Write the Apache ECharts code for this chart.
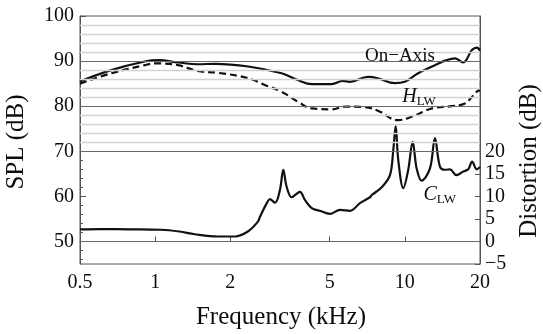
<!DOCTYPE html>
<html><head><meta charset="utf-8">
<script src="https://cdn.jsdelivr.net/npm/echarts@6/dist/echarts.min.js"></script>
<style>html,body{margin:0;padding:0;background:#fff}#c{width:543px;height:334px}</style>
</head><body><div id="c"></div>
<script>
// ---- data ----
const onAxisFreq = [0.5, 0.667, 0.908, 1.03, 1.235, 1.48, 1.74, 2.36, 3.21, 3.73, 4.24, 5.09, 5.65, 6.03, 7.12, 7.8, 9.13, 10.0, 11.3, 13.2, 14.5, 15.9, 17.1, 18.6, 19.45, 20];
const onAxisSPL  = [85.5, 88.0, 89.9, 90.2, 89.7, 89.3, 89.4, 88.8, 87.3, 85.8, 84.9, 84.9, 85.6, 85.4, 86.5, 86.2, 85.1, 85.4, 87.3, 89.1, 90.1, 90.6, 89.7, 92.5, 93.0, 92.3];
const hlwFreq = [0.5, 0.667, 0.908, 1.0, 1.235, 1.48, 1.785, 2.36, 2.75, 3.21, 3.73, 4.24, 5.09, 5.76, 6.92, 7.8, 9.39, 10.7, 12.85, 15.4, 17.4, 18.6, 19.6, 20];
const hlwSPL  = [85.0, 87.3, 89.1, 89.5, 89.1, 87.8, 87.4, 86.2, 84.7, 83.2, 81.0, 79.5, 79.3, 79.9, 79.8, 79.0, 76.9, 77.7, 79.5, 80.0, 80.6, 82.1, 83.4, 83.5];
const clwFreq = [0.5, 0.6, 0.8, 1.055, 1.25, 1.44, 1.785, 2.09, 2.35, 2.58, 2.63, 2.80, 2.88, 3.02, 3.16, 3.26, 3.36, 3.52, 3.80, 3.98, 4.24, 4.57, 5.01, 5.50, 6.03, 6.61, 7.25, 7.37, 8.08, 8.72, 8.99, 9.19, 9.41, 9.86, 10.32, 10.75, 11.15, 11.68, 12.61, 13.2, 13.82, 14.5, 15.16, 16.1, 17.14, 17.95, 18.6, 19.4, 20];
const clwDist = [2.7, 2.75, 2.7, 2.6, 2.2, 1.6, 1.1, 1.1, 2.2, 4.4, 5.5, 8.5, 9.4, 8.6, 11.4, 15.9, 12.2, 9.8, 11.0, 9.2, 7.4, 6.8, 6.1, 7.0, 6.8, 8.5, 9.8, 10.3, 12.0, 14.7, 20.3, 25.6, 18.1, 11.8, 15.9, 22.1, 16.2, 13.5, 16.2, 22.9, 16.6, 15.9, 16.0, 14.7, 15.5, 16.0, 17.7, 16.0, 16.5];
const xTicks = [0.5, 1, 2, 5, 10, 20];
const splLabels = [50, 60, 70, 80, 90, 100];
const splMinorTicks = [46, 48, 52, 54, 56, 58, 62, 64, 66, 68, 72, 74, 76, 78, 82, 84, 86, 88, 92, 94, 96, 98];
const distLabels = [-5, 0, 5, 10, 15, 20];
const minorGrid = [72, 74, 76, 78, 82, 84, 86, 88, 92, 94, 96, 98];
const majorGrid = [50, 70, 80, 90];

const zip = (a, b) => a.map((v, i) => [v, b[i]]);
const FF = 'Liberation Serif';
const AX = '#555';
const TXT = '#0d0d0d';

const chart = echarts.init(document.getElementById('c'), null, {renderer: 'canvas'});
const lblStyle = {fontFamily: FF, fontSize: 20, color: TXT};

const option = {
  animation: false,
  grid: {left: 80, right: 63, top: 16, bottom: 70, show: true, borderColor: AX, borderWidth: 1, backgroundColor: 'transparent'},
  xAxis: [{
    type: 'log', logBase: 10, min: 0.5, max: 20,
    axisLine: {show: true, lineStyle: {color: AX, width: 1}},
    axisTick: {show: true, inside: true, length: 5, customValues: xTicks, lineStyle: {color: AX}},
    minorTick: {show: false},
    axisLabel: Object.assign({customValues: xTicks, margin: 9, formatter: v => String(+(+v).toFixed(2))}, lblStyle),
    splitLine: {show: false}
  }],
  yAxis: [
    {
      type: 'value', min: 45, max: 100, position: 'left',
      axisLine: {show: true, lineStyle: {color: AX}},
      axisTick: {show: true, inside: true, length: 6, customValues: splLabels, lineStyle: {color: AX}},
      axisLabel: Object.assign({customValues: splLabels, margin: 6}, lblStyle),
      splitLine: {show: false}
    },
    {
      type: 'value', min: 45, max: 100, position: 'left', offset: 0,
      axisLine: {show: false},
      axisTick: {show: true, inside: true, length: 3, customValues: splMinorTicks, lineStyle: {color: AX}},
      axisLabel: {show: false},
      splitLine: {show: false}
    },
    {
      type: 'value', min: -5, max: 50, position: 'right',
      axisLine: {show: true, lineStyle: {color: AX}},
      axisTick: {show: true, inside: true, length: 5, customValues: distLabels, lineStyle: {color: AX}},
      axisLabel: Object.assign({customValues: distLabels, margin: 5, formatter: v => (v < 0 ? '\u2212' + Math.abs(v) : String(v))}, lblStyle),
      splitLine: {show: false}
    }
  ],
  graphic: [
    {type: 'text', x: 16, y: 142, rotation: Math.PI / 2, style: {text: 'SPL (dB)', font: '25px "Liberation Serif"', fill: TXT, textAlign: 'center', textVerticalAlign: 'middle'}},
    {type: 'text', x: 529, y: 161, rotation: Math.PI / 2, style: {text: 'Distortion (dB)', font: '25px "Liberation Serif"', fill: TXT, textAlign: 'center', textVerticalAlign: 'middle'}},
    {type: 'text', x: 281, y: 317, style: {text: 'Frequency (kHz)', font: '25px "Liberation Serif"', fill: TXT, textAlign: 'center', textVerticalAlign: 'middle'}}
  ],
  series: [
    {
      type: 'line', name: 'grid', data: [], silent: true, z: 1,
      markLine: {
        silent: true, symbol: ['none', 'none'], label: {show: false}, animation: false,
        data: minorGrid.map(v => ({yAxis: v, lineStyle: {color: '#d2d2d2', width: 1.3, type: 'solid'}}))
          .concat(majorGrid.map(v => ({yAxis: v, lineStyle: {color: '#6a6a6a', width: 1, type: 'solid'}})))
      }
    },
    {
      type: 'line', name: 'On-Axis', data: zip(onAxisFreq, onAxisSPL), smooth: 0.4, showSymbol: false, z: 3,
      lineStyle: {color: '#111', width: 2.2},
      markPoint: {
        symbol: 'rect', symbolSize: 1, itemStyle: {color: 'rgba(0,0,0,0)'},
        label: {show: true, position: 'inside', formatter: 'On\u2212Axis', fontFamily: FF, fontSize: 19, color: TXT},
        data: [{coord: [9.56, 91.1]}]
      }
    },
    {
      type: 'line', name: 'HLW', data: zip(hlwFreq, hlwSPL), smooth: 0.4, showSymbol: false, z: 3,
      lineStyle: {color: '#111', width: 2.2, type: [7, 4]},
      markPoint: {
        symbol: 'rect', symbolSize: 1, itemStyle: {color: 'rgba(0,0,0,0)'},
        label: {show: true, position: 'inside', formatter: '{i|H}{s|LW}',
          rich: {i: {fontFamily: FF, fontStyle: 'italic', fontSize: 20, color: TXT}, s: {fontFamily: FF, fontSize: 13, color: TXT, padding: [9, 0, 0, 0]}}},
        data: [{coord: [11.4, 82.0]}]
      }
    },
    {
      type: 'line', name: 'CLW', yAxisIndex: 2, data: zip(clwFreq, clwDist), smooth: 0.35, showSymbol: false, z: 3,
      lineStyle: {color: '#111', width: 2.2},
      markPoint: {
        symbol: 'rect', symbolSize: 1, itemStyle: {color: 'rgba(0,0,0,0)'},
        label: {show: true, position: 'inside', formatter: '{i|C}{s|LW}',
          rich: {i: {fontFamily: FF, fontStyle: 'italic', fontSize: 20, color: TXT}, s: {fontFamily: FF, fontSize: 13, color: TXT, padding: [9, 0, 0, 0]}}},
        data: [{coord: [13.8, 10.3]}]
      }
    }
  ]
};
chart.setOption(option);
</script>
</body></html>
